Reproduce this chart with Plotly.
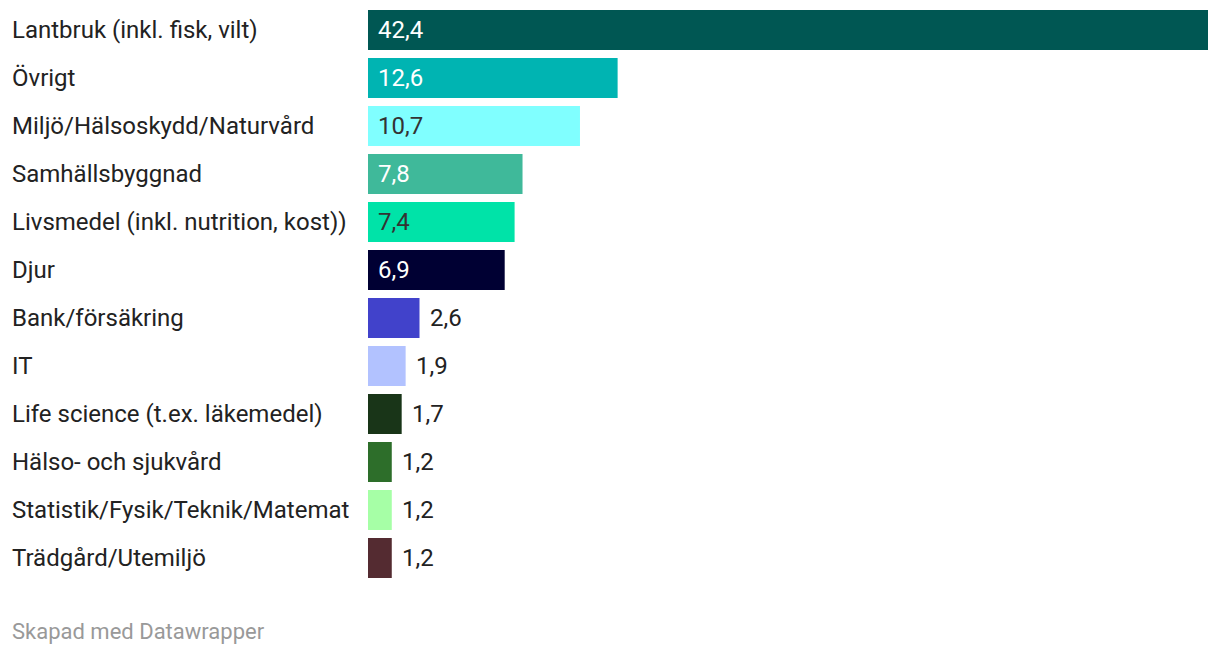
import plotly.graph_objects as go

categories = [
    "Lantbruk (inkl. fisk, vilt)",
    "Övrigt",
    "Miljö/Hälsoskydd/Naturvård",
    "Samhällsbyggnad",
    "Livsmedel (inkl. nutrition, kost))",
    "Djur",
    "Bank/försäkring",
    "IT",
    "Life science (t.ex. läkemedel)",
    "Hälso- och sjukvård",
    "Statistik/Fysik/Teknik/Matemat",
    "Trädgård/Utemiljö",
]
values = [42.4, 12.6, 10.7, 7.8, 7.4, 6.9, 2.6, 1.9, 1.7, 1.2, 1.2, 1.2]
colors = ["#005753", "#00b4b2", "#80ffff", "#3fb99a", "#00e3a8", "#000033",
          "#4142cb", "#b2c2ff", "#193518", "#2d6e2a", "#a6ffa6", "#542b31"]
inside_text_colors = ["#ffffff", "#ffffff", "#333333", "#ffffff", "#333333", "#ffffff",
                      None, None, None, None, None, None]

fig = go.Figure()
fig.add_trace(go.Bar(
    x=values, y=categories, orientation="h",
    marker=dict(color=colors, line=dict(width=0)),
    hoverinfo="skip",
))

annotations = []
for cat, v, tc in zip(categories, values, inside_text_colors):
    annotations.append(dict(
        x=0, y=cat, xref="paper", yref="y", xanchor="left", yanchor="middle",
        xshift=-358, text=cat, showarrow=False,
        font=dict(family="Roboto", size=24, color="#222222"),
    ))
    label = f"{v:.1f}".replace(".", ",")
    if tc is not None:
        annotations.append(dict(
            x=0, y=cat, xref="x", yref="y", xanchor="left", yanchor="middle",
            xshift=8, text=label, showarrow=False,
            font=dict(family="Roboto", size=24, color=tc),
        ))
    else:
        annotations.append(dict(
            x=v, y=cat, xref="x", yref="y", xanchor="left", yanchor="middle",
            xshift=8, text=label, showarrow=False,
            font=dict(family="Roboto", size=24, color="#222222"),
        ))

annotations.append(dict(
    x=0, y=0, xref="paper", yref="paper", xanchor="left", yanchor="middle",
    xshift=-358, yshift=-49, text="Skapad med Datawrapper", showarrow=False,
    font=dict(family="Roboto", size=22, color="#999999"),
))

fig.update_layout(
    width=1220, height=654,
    margin=dict(l=368, r=12, t=6, b=72),
    paper_bgcolor="white", plot_bgcolor="white",
    bargap=1 / 6,
    showlegend=False,
    xaxis=dict(range=[0, 42.4], visible=False, fixedrange=True),
    yaxis=dict(autorange="reversed", visible=False, fixedrange=True),
    annotations=annotations,
)

fig.write_html("out.html", config={"displayModeBar": False},
               post_script="document.body.style.margin='0';document.body.style.padding='0';")
